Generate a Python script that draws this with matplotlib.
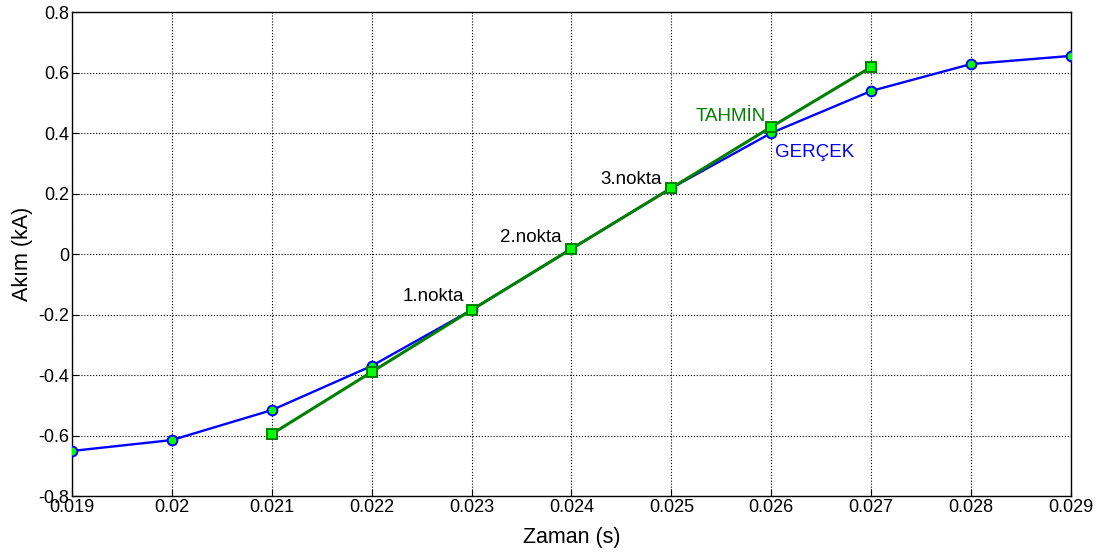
import matplotlib
matplotlib.use("Agg")
import matplotlib.pyplot as plt

plt.rcParams['font.family'] = ['Liberation Sans', 'DejaVu Sans']

# Measured current (GERÇEK)
t_real = [0.019, 0.020, 0.021, 0.022, 0.023, 0.024, 0.025, 0.026, 0.027, 0.028, 0.029]
i_real = [-0.651, -0.615, -0.516, -0.370, -0.185, 0.017, 0.218, 0.400, 0.539, 0.628, 0.655]

# Predicted current (TAHMİN)
t_pred = [0.021, 0.022, 0.023, 0.024, 0.025, 0.026, 0.027]
i_pred = [-0.595, -0.390, -0.185, 0.017, 0.218, 0.420, 0.618]

x_ticks = [0.019, 0.020, 0.021, 0.022, 0.023, 0.024, 0.025, 0.026, 0.027, 0.028, 0.029]
x_tick_labels = ['0.019', '0.02', '0.021', '0.022', '0.023', '0.024', '0.025',
                 '0.026', '0.027', '0.028', '0.029']
y_ticks = [-0.8, -0.6, -0.4, -0.2, 0, 0.2, 0.4, 0.6, 0.8]
y_tick_labels = ['-0.8', '-0.6', '-0.4', '-0.2', '0', '0.2', '0.4', '0.6', '0.8']

fig = plt.figure(figsize=(11.04, 5.52), dpi=100)
ax = fig.add_axes([0.0652, 0.1014, 0.9048, 0.8768])

ax.plot(t_real, i_real, color='#0000ff', lw=1.7, marker='o', markersize=7,
        markerfacecolor='#00ff00', markeredgecolor='#0000ff', markeredgewidth=1.4, zorder=3)
ax.plot(t_pred, i_pred, color='#008000', lw=2.2, marker='s', markersize=6.5,
        markerfacecolor='#00ff00', markeredgecolor='#008000', markeredgewidth=1.4, zorder=4)

# Annotations
ax.text(0.02293, -0.139, '1.nokta', fontsize=13.5, ha='right', va='center')
ax.text(0.02390, 0.053, '2.nokta', fontsize=13.5, ha='right', va='center')
ax.text(0.02491, 0.248, '3.nokta', fontsize=13.5, ha='right', va='center')
ax.text(0.02595, 0.453, 'TAHMİN', fontsize=13.5, ha='right', va='center', color='#008000')
ax.text(0.02604, 0.337, 'GERÇEK', fontsize=13.5, ha='left', va='center', color='#0000ff')

ax.set_xlim(0.019, 0.029)
ax.set_ylim(-0.8, 0.8)
ax.set_xticks(x_ticks)
ax.set_xticklabels(x_tick_labels)
ax.set_yticks(y_ticks)
ax.set_yticklabels(y_tick_labels)
ax.tick_params(direction='in', labelsize=13, length=5, pad=2)
ax.grid(True, color='black', linestyle=':', linewidth=0.8)
for s in ax.spines.values():
    s.set_linewidth(1.0)

ax.set_xlabel('Zaman (s)', fontsize=15.5, labelpad=8)
ax.set_ylabel('Akım (kA)', fontsize=15.5, labelpad=4)

fig.savefig('out.png', dpi=100)
